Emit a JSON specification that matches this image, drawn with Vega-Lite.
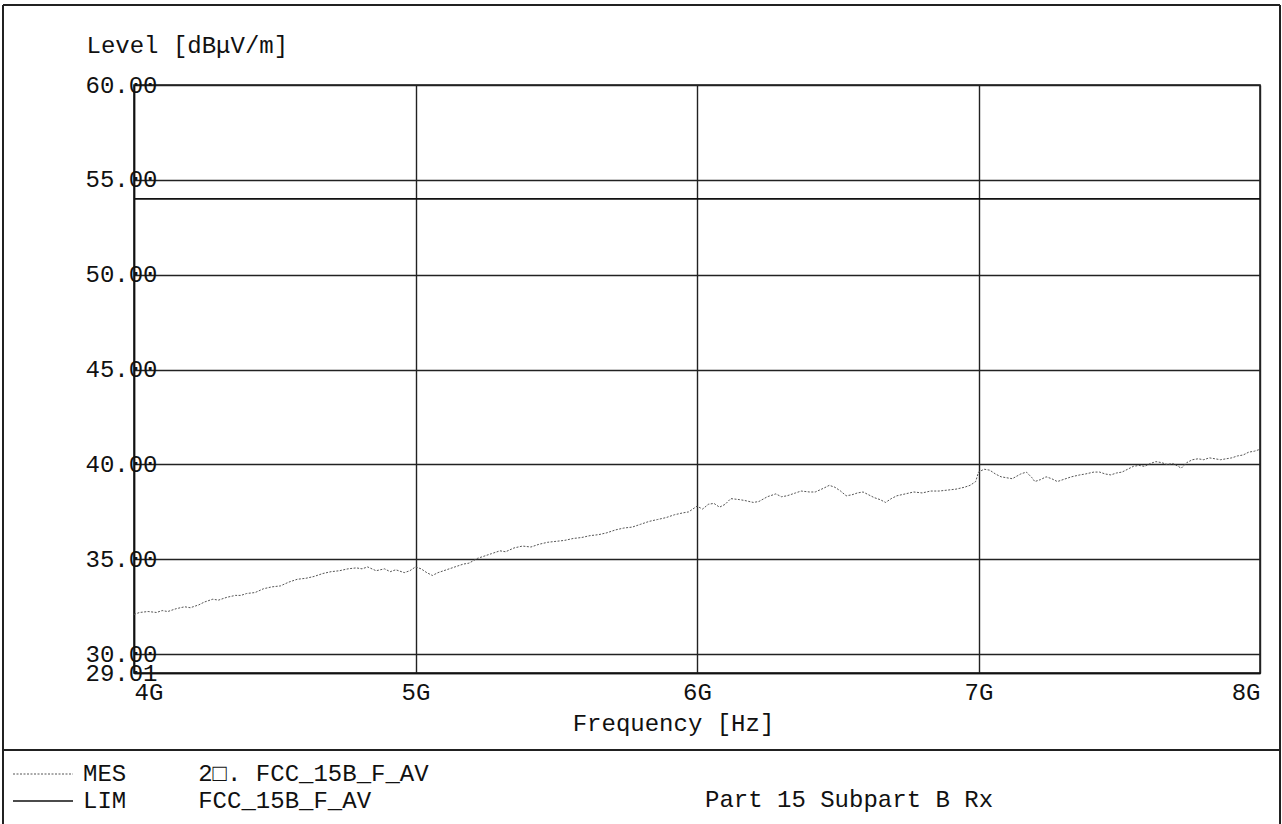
{
  "$schema": "https://vega.github.io/schema/vega-lite/v6.json",
  "width": 1126,
  "height": 588,
  "autosize": {"type": "none"},
  "padding": {"left": 134, "top": 85, "right": 22, "bottom": 151},
  "background": "white",
  "title": {
    "text": "Part 15 Subpart B Rx",
    "orient": "bottom",
    "anchor": "start",
    "frame": "group",
    "dx": 571,
    "dy": -37,
    "offset": 0,
    "font": "Liberation Mono",
    "fontSize": 24,
    "fontWeight": "normal",
    "color": "#111"
  },
  "config": {
    "font": "Liberation Mono",
    "view": {"stroke": "#111", "strokeWidth": 1.5},
    "axis": {
      "labelFont": "Liberation Mono",
      "titleFont": "Liberation Mono",
      "labelFontSize": 24,
      "titleFontSize": 24,
      "labelColor": "#111",
      "titleColor": "#111",
      "titleFontWeight": "normal",
      "gridColor": "#222",
      "gridOpacity": 1,
      "gridWidth": 1.4,
      "domainColor": "#111",
      "domainWidth": 1.5,
      "ticks": false,
      "tickSize": 0
    }
  },
  "data": {
    "values": [
      {"series": "LIM", "freq": 4.0, "level": 54.0},
      {"series": "LIM", "freq": 8.0, "level": 54.0},
      {"series": "MES", "freq": 4.00, "level": 32.1},
      {"series": "MES", "freq": 4.02, "level": 32.2},
      {"series": "MES", "freq": 4.05, "level": 32.25},
      {"series": "MES", "freq": 4.08, "level": 32.2},
      {"series": "MES", "freq": 4.10, "level": 32.3},
      {"series": "MES", "freq": 4.12, "level": 32.25},
      {"series": "MES", "freq": 4.15, "level": 32.4},
      {"series": "MES", "freq": 4.18, "level": 32.5},
      {"series": "MES", "freq": 4.20, "level": 32.45},
      {"series": "MES", "freq": 4.23, "level": 32.6},
      {"series": "MES", "freq": 4.25, "level": 32.75},
      {"series": "MES", "freq": 4.28, "level": 32.9},
      {"series": "MES", "freq": 4.30, "level": 32.85},
      {"series": "MES", "freq": 4.33, "level": 33.0},
      {"series": "MES", "freq": 4.36, "level": 33.1},
      {"series": "MES", "freq": 4.38, "level": 33.1},
      {"series": "MES", "freq": 4.40, "level": 33.2},
      {"series": "MES", "freq": 4.43, "level": 33.25},
      {"series": "MES", "freq": 4.46, "level": 33.45},
      {"series": "MES", "freq": 4.49, "level": 33.55},
      {"series": "MES", "freq": 4.52, "level": 33.6},
      {"series": "MES", "freq": 4.55, "level": 33.8},
      {"series": "MES", "freq": 4.58, "level": 33.95},
      {"series": "MES", "freq": 4.61, "level": 34.0},
      {"series": "MES", "freq": 4.64, "level": 34.1},
      {"series": "MES", "freq": 4.67, "level": 34.25},
      {"series": "MES", "freq": 4.70, "level": 34.35},
      {"series": "MES", "freq": 4.73, "level": 34.4},
      {"series": "MES", "freq": 4.76, "level": 34.5},
      {"series": "MES", "freq": 4.79, "level": 34.55},
      {"series": "MES", "freq": 4.81, "level": 34.5},
      {"series": "MES", "freq": 4.83, "level": 34.6},
      {"series": "MES", "freq": 4.86, "level": 34.4},
      {"series": "MES", "freq": 4.89, "level": 34.5},
      {"series": "MES", "freq": 4.91, "level": 34.35},
      {"series": "MES", "freq": 4.93, "level": 34.45},
      {"series": "MES", "freq": 4.96, "level": 34.3},
      {"series": "MES", "freq": 4.98, "level": 34.4},
      {"series": "MES", "freq": 5.00, "level": 34.6},
      {"series": "MES", "freq": 5.02, "level": 34.5},
      {"series": "MES", "freq": 5.04, "level": 34.3},
      {"series": "MES", "freq": 5.06, "level": 34.15},
      {"series": "MES", "freq": 5.08, "level": 34.3},
      {"series": "MES", "freq": 5.11, "level": 34.45},
      {"series": "MES", "freq": 5.14, "level": 34.6},
      {"series": "MES", "freq": 5.17, "level": 34.75},
      {"series": "MES", "freq": 5.19, "level": 34.8},
      {"series": "MES", "freq": 5.22, "level": 35.05},
      {"series": "MES", "freq": 5.24, "level": 35.15},
      {"series": "MES", "freq": 5.27, "level": 35.3},
      {"series": "MES", "freq": 5.30, "level": 35.45},
      {"series": "MES", "freq": 5.32, "level": 35.4},
      {"series": "MES", "freq": 5.35, "level": 35.6},
      {"series": "MES", "freq": 5.38, "level": 35.7},
      {"series": "MES", "freq": 5.41, "level": 35.65},
      {"series": "MES", "freq": 5.44, "level": 35.8},
      {"series": "MES", "freq": 5.47, "level": 35.9},
      {"series": "MES", "freq": 5.50, "level": 35.95},
      {"series": "MES", "freq": 5.53, "level": 36.0},
      {"series": "MES", "freq": 5.56, "level": 36.1},
      {"series": "MES", "freq": 5.59, "level": 36.15},
      {"series": "MES", "freq": 5.62, "level": 36.25},
      {"series": "MES", "freq": 5.65, "level": 36.3},
      {"series": "MES", "freq": 5.68, "level": 36.4},
      {"series": "MES", "freq": 5.71, "level": 36.55},
      {"series": "MES", "freq": 5.74, "level": 36.65},
      {"series": "MES", "freq": 5.77, "level": 36.7},
      {"series": "MES", "freq": 5.80, "level": 36.85},
      {"series": "MES", "freq": 5.83, "level": 37.0},
      {"series": "MES", "freq": 5.86, "level": 37.1},
      {"series": "MES", "freq": 5.89, "level": 37.2},
      {"series": "MES", "freq": 5.92, "level": 37.35},
      {"series": "MES", "freq": 5.95, "level": 37.45},
      {"series": "MES", "freq": 5.97, "level": 37.5},
      {"series": "MES", "freq": 6.00, "level": 37.8},
      {"series": "MES", "freq": 6.02, "level": 37.65},
      {"series": "MES", "freq": 6.04, "level": 37.9},
      {"series": "MES", "freq": 6.06, "level": 37.95},
      {"series": "MES", "freq": 6.08, "level": 37.75},
      {"series": "MES", "freq": 6.10, "level": 37.9},
      {"series": "MES", "freq": 6.12, "level": 38.2},
      {"series": "MES", "freq": 6.15, "level": 38.15},
      {"series": "MES", "freq": 6.17, "level": 38.1},
      {"series": "MES", "freq": 6.20, "level": 38.0},
      {"series": "MES", "freq": 6.22, "level": 38.05},
      {"series": "MES", "freq": 6.25, "level": 38.3},
      {"series": "MES", "freq": 6.28, "level": 38.45},
      {"series": "MES", "freq": 6.30, "level": 38.3},
      {"series": "MES", "freq": 6.32, "level": 38.35},
      {"series": "MES", "freq": 6.35, "level": 38.5},
      {"series": "MES", "freq": 6.37, "level": 38.6},
      {"series": "MES", "freq": 6.40, "level": 38.55},
      {"series": "MES", "freq": 6.42, "level": 38.55},
      {"series": "MES", "freq": 6.45, "level": 38.75},
      {"series": "MES", "freq": 6.47, "level": 38.9},
      {"series": "MES", "freq": 6.49, "level": 38.8},
      {"series": "MES", "freq": 6.51, "level": 38.6},
      {"series": "MES", "freq": 6.53, "level": 38.35},
      {"series": "MES", "freq": 6.55, "level": 38.4},
      {"series": "MES", "freq": 6.57, "level": 38.5},
      {"series": "MES", "freq": 6.59, "level": 38.55},
      {"series": "MES", "freq": 6.61, "level": 38.4},
      {"series": "MES", "freq": 6.63, "level": 38.25},
      {"series": "MES", "freq": 6.65, "level": 38.15},
      {"series": "MES", "freq": 6.67, "level": 38.0},
      {"series": "MES", "freq": 6.69, "level": 38.2},
      {"series": "MES", "freq": 6.71, "level": 38.35},
      {"series": "MES", "freq": 6.74, "level": 38.45},
      {"series": "MES", "freq": 6.77, "level": 38.55},
      {"series": "MES", "freq": 6.80, "level": 38.5},
      {"series": "MES", "freq": 6.83, "level": 38.6},
      {"series": "MES", "freq": 6.86, "level": 38.6},
      {"series": "MES", "freq": 6.89, "level": 38.65},
      {"series": "MES", "freq": 6.92, "level": 38.7},
      {"series": "MES", "freq": 6.95, "level": 38.8},
      {"series": "MES", "freq": 6.97, "level": 38.9},
      {"series": "MES", "freq": 6.99, "level": 39.1},
      {"series": "MES", "freq": 7.00, "level": 39.6},
      {"series": "MES", "freq": 7.02, "level": 39.75},
      {"series": "MES", "freq": 7.04, "level": 39.7},
      {"series": "MES", "freq": 7.06, "level": 39.5},
      {"series": "MES", "freq": 7.08, "level": 39.35},
      {"series": "MES", "freq": 7.10, "level": 39.3},
      {"series": "MES", "freq": 7.12, "level": 39.25},
      {"series": "MES", "freq": 7.15, "level": 39.5},
      {"series": "MES", "freq": 7.17, "level": 39.6},
      {"series": "MES", "freq": 7.19, "level": 39.3},
      {"series": "MES", "freq": 7.20, "level": 39.1},
      {"series": "MES", "freq": 7.22, "level": 39.2},
      {"series": "MES", "freq": 7.24, "level": 39.35},
      {"series": "MES", "freq": 7.26, "level": 39.25},
      {"series": "MES", "freq": 7.28, "level": 39.1},
      {"series": "MES", "freq": 7.30, "level": 39.2},
      {"series": "MES", "freq": 7.33, "level": 39.35},
      {"series": "MES", "freq": 7.36, "level": 39.45},
      {"series": "MES", "freq": 7.38, "level": 39.5},
      {"series": "MES", "freq": 7.41, "level": 39.6},
      {"series": "MES", "freq": 7.43, "level": 39.6},
      {"series": "MES", "freq": 7.45, "level": 39.5},
      {"series": "MES", "freq": 7.47, "level": 39.45},
      {"series": "MES", "freq": 7.49, "level": 39.55},
      {"series": "MES", "freq": 7.51, "level": 39.6},
      {"series": "MES", "freq": 7.53, "level": 39.75},
      {"series": "MES", "freq": 7.55, "level": 39.9},
      {"series": "MES", "freq": 7.57, "level": 39.95},
      {"series": "MES", "freq": 7.59, "level": 39.9},
      {"series": "MES", "freq": 7.61, "level": 40.05},
      {"series": "MES", "freq": 7.63, "level": 40.15},
      {"series": "MES", "freq": 7.65, "level": 40.1},
      {"series": "MES", "freq": 7.67, "level": 40.0},
      {"series": "MES", "freq": 7.69, "level": 40.05},
      {"series": "MES", "freq": 7.71, "level": 39.9},
      {"series": "MES", "freq": 7.72, "level": 39.8},
      {"series": "MES", "freq": 7.74, "level": 40.1},
      {"series": "MES", "freq": 7.76, "level": 40.25},
      {"series": "MES", "freq": 7.78, "level": 40.3},
      {"series": "MES", "freq": 7.80, "level": 40.25},
      {"series": "MES", "freq": 7.82, "level": 40.35},
      {"series": "MES", "freq": 7.84, "level": 40.3},
      {"series": "MES", "freq": 7.86, "level": 40.25},
      {"series": "MES", "freq": 7.88, "level": 40.3},
      {"series": "MES", "freq": 7.90, "level": 40.35},
      {"series": "MES", "freq": 7.92, "level": 40.45},
      {"series": "MES", "freq": 7.94, "level": 40.5},
      {"series": "MES", "freq": 7.96, "level": 40.65},
      {"series": "MES", "freq": 7.98, "level": 40.7},
      {"series": "MES", "freq": 8.00, "level": 40.8}
    ]
  },
  "layer": [
    {
      "mark": {"type": "line", "clip": true},
      "encoding": {
        "x": {
          "field": "freq",
          "type": "quantitative",
          "scale": {"domain": [4, 8], "nice": false, "zero": false},
          "axis": {
            "values": [4, 5, 6, 7, 8],
            "labelExpr": "datum.value + 'G'",
            "title": "Frequency [Hz]",
            "grid": true,
            "labelFlush": true,
            "labelPadding": 7,
            "labelBaseline": "top",
            "titleX": 539,
            "titleY": 50,
            "titleAlign": "center",
            "titleBaseline": "middle"
          }
        },
        "y": {
          "field": "level",
          "type": "quantitative",
          "scale": {"domain": [29.01, 60], "nice": false, "zero": false},
          "axis": {
            "values": [29.01, 30, 35, 40, 45, 50, 55, 60],
            "format": ".2f",
            "title": "Level [dBμV/m]",
            "grid": true,
            "labelOverlap": false,
            "labelAlign": "right",
            "labelBaseline": "middle",
            "labelPadding": -23,
            "titleAngle": 0,
            "titleAlign": "left",
            "titleBaseline": "middle",
            "titleX": -48,
            "titleY": -40
          }
        },
        "color": {
          "field": "series",
          "type": "nominal",
          "scale": {"domain": ["MES", "LIM"], "range": ["#555555", "#111111"]},
          "legend": {
            "title": null,
            "orient": "none",
            "legendX": -103,
            "legendY": 677,
            "direction": "vertical",
            "symbolType": "M-6,0H6",
            "symbolSize": 100,
            "labelFont": "Liberation Mono",
            "labelFontSize": 24,
            "labelColor": "#111",
            "labelOffset": 28,
            "labelLimit": 2000,
            "rowPadding": 3,
            "padding": 0,
            "labelExpr": "datum.label === 'MES' ? 'MES\u00a0\u00a0\u00a0\u00a0\u00a02\u25a1. FCC_15B_F_AV' : 'LIM\u00a0\u00a0\u00a0\u00a0\u00a0FCC_15B_F_AV'"
          }
        },
        "strokeDash": {
          "field": "series",
          "type": "nominal",
          "scale": {"domain": ["MES", "LIM"], "range": [[2, 1.5], [1, 0]]},
          "legend": {
            "title": null,
            "orient": "none",
            "legendX": -103,
            "legendY": 677,
            "direction": "vertical",
            "symbolType": "M-6,0H6",
            "symbolSize": 100,
            "labelFont": "Liberation Mono",
            "labelFontSize": 24,
            "labelColor": "#111",
            "labelOffset": 28,
            "labelLimit": 2000,
            "rowPadding": 3,
            "padding": 0,
            "labelExpr": "datum.label === 'MES' ? 'MES\u00a0\u00a0\u00a0\u00a0\u00a02\u25a1. FCC_15B_F_AV' : 'LIM\u00a0\u00a0\u00a0\u00a0\u00a0FCC_15B_F_AV'"
          }
        },
        "strokeWidth": {
          "field": "series",
          "type": "nominal",
          "scale": {"domain": ["MES", "LIM"], "range": [1, 1.6]},
          "legend": {
            "title": null,
            "orient": "none",
            "legendX": -103,
            "legendY": 677,
            "direction": "vertical",
            "symbolType": "M-6,0H6",
            "symbolSize": 100,
            "labelFont": "Liberation Mono",
            "labelFontSize": 24,
            "labelColor": "#111",
            "labelOffset": 28,
            "labelLimit": 2000,
            "rowPadding": 3,
            "padding": 0,
            "labelExpr": "datum.label === 'MES' ? 'MES\u00a0\u00a0\u00a0\u00a0\u00a02\u25a1. FCC_15B_F_AV' : 'LIM\u00a0\u00a0\u00a0\u00a0\u00a0FCC_15B_F_AV'"
          }
        }
      }
    },
    {
      "mark": {"type": "rule", "color": "#222", "strokeWidth": 1.5, "clip": false},
      "encoding": {
        "x": {"datum": 3.5346, "type": "quantitative"},
        "x2": {"datum": 8.071},
        "y": {"datum": 64.22, "type": "quantitative"}
      }
    },
    {
      "mark": {"type": "rule", "color": "#222", "strokeWidth": 1.5, "clip": false},
      "encoding": {
        "x": {"datum": 3.5346, "type": "quantitative"},
        "x2": {"datum": 8.071},
        "y": {"datum": 24.95, "type": "quantitative"}
      }
    },
    {
      "mark": {"type": "rule", "color": "#222", "strokeWidth": 1.5, "clip": false},
      "encoding": {
        "x": {"datum": 3.5346, "type": "quantitative"},
        "y": {"datum": 64.22, "type": "quantitative"},
        "y2": {"datum": 21.05}
      }
    },
    {
      "mark": {"type": "rule", "color": "#222", "strokeWidth": 1.5, "clip": false},
      "encoding": {
        "x": {"datum": 8.071, "type": "quantitative"},
        "y": {"datum": 64.22, "type": "quantitative"},
        "y2": {"datum": 21.05}
      }
    }
  ]
}
